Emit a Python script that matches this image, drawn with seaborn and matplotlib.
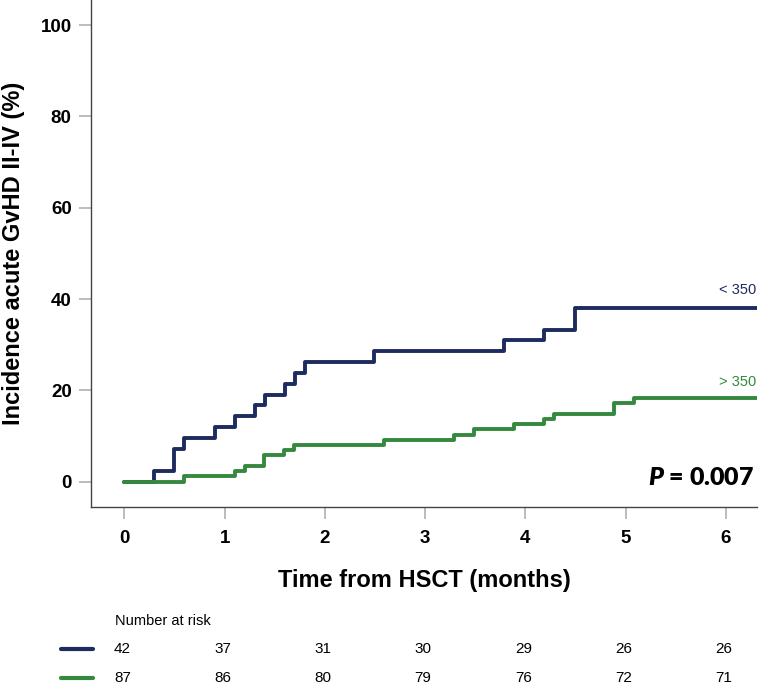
import numpy as np
import pandas as pd
import matplotlib
matplotlib.use("Agg")
import matplotlib.pyplot as plt
import matplotlib.transforms as mtransforms
import seaborn as sns

# cumulative incidence (step after each time)
low_time = [0, 0.29, 0.49, 0.59, 0.90, 1.10, 1.30, 1.40, 1.60, 1.70, 1.80, 2.49, 3.79, 4.19, 4.49, 6.32]
low_inc = [0, 2.4, 7.1, 9.5, 11.9, 14.3, 16.7, 19.0, 21.4, 23.8, 26.2, 28.6, 31.0, 33.3, 38.1, 38.1]

high_time = [0, 0.59, 1.10, 1.20, 1.39, 1.59, 1.69, 2.59, 3.29, 3.49, 3.89, 4.19, 4.29, 4.88, 5.08, 6.32]
high_inc = [0, 1.15, 2.3, 3.45, 5.75, 6.9, 8.05, 9.2, 10.3, 11.5, 12.6, 13.8, 14.9, 17.2, 18.4, 18.4]

groups = ["< 350", "> 350"]
colors = ["#1d2b5f", "#35893f"]

risk_times = [0, 1, 2, 3, 4, 5, 6]
risk_low = [42, 37, 31, 30, 29, 26, 26]
risk_high = [87, 86, 80, 79, 76, 72, 71]

df = pd.concat([
    pd.DataFrame({"time": low_time, "inc": low_inc, "group": groups[0]}),
    pd.DataFrame({"time": high_time, "inc": high_inc, "group": groups[1]}),
])

sns.set_theme(style="white")
plt.rcParams["font.family"] = ["Liberation Sans", "DejaVu Sans"]
plt.rcParams["text.color"] = "black"
plt.rcParams["axes.labelcolor"] = "black"
plt.rcParams["xtick.labelcolor"] = "black"
plt.rcParams["ytick.labelcolor"] = "black"
plt.rcParams["mathtext.fontset"] = "custom"
plt.rcParams["mathtext.it"] = "Lato:italic:heavy"
plt.rcParams["mathtext.rm"] = "Lato:heavy"

fig = plt.figure(figsize=(7.6, 6.84), dpi=100)
ax = fig.add_axes([0.1201, 0.2588, 0.8759, 0.7412])

for g, c in zip(groups, colors):
    sub = df[df["group"] == g]
    sns.lineplot(data=sub, x="time", y="inc", color=c, linewidth=2.8,
                 drawstyle="steps-post", estimator=None, ax=ax)

ax.set_xlim(-0.331, 6.31)
ax.set_ylim(-5.54, 105.5)
ax.set_xticks(risk_times)
ax.set_yticks([0, 20, 40, 60, 80, 100])

for s in ["top", "right"]:
    ax.spines[s].set_visible(False)
for s in ["left", "bottom"]:
    ax.spines[s].set_color("#444444")
    ax.spines[s].set_linewidth(1.0)

ax.tick_params(axis="both", which="major", length=8.6, width=1.2, color="#b0b0b0",
               labelsize=13.5, direction="out", left=True, bottom=True)
ax.tick_params(axis="y", pad=5.5)
ax.tick_params(axis="x", pad=8)
for lab in ax.get_xticklabels() + ax.get_yticklabels():
    lab.set_fontweight("bold")

ax.set_xlabel("Time from HSCT (months)", fontsize=17, fontweight="bold", labelpad=16)
ax.set_ylabel("Incidence acute GvHD II-IV (%)", fontsize=17, fontweight="bold", labelpad=11)

ax.text(6.30, 42.0, groups[0], color=colors[0], fontsize=10.5, ha="right", va="center")
ax.text(6.30, 21.9, groups[1], color=colors[1], fontsize=10.5, ha="right", va="center")

ax.text(6.28, 0.8, r"$\mathit{P}$ = 0.007", fontsize=18, fontweight="heavy",
        family="Lato", ha="right", va="center")

# number at risk table below the axis
trans = mtransforms.blended_transform_factory(ax.transData, fig.transFigure)
fig.text(115 / 760, 1 - 620.7 / 684, "Number at risk", fontsize=10.5, ha="left", va="center")
rows = [(risk_low, 1 - 649 / 684), (risk_high, 1 - 678 / 684)]
for (vals, yy), c in zip(rows, colors):
    for t, v in zip(risk_times, vals):
        ax.text(t - 0.02, yy, str(v), transform=trans, fontsize=11, ha="center", va="center")
    fig.add_artist(plt.Line2D([61 / 760, 93 / 760], [yy, yy], color=c, linewidth=3,
                              transform=fig.transFigure))

fig.savefig("out.png", dpi=100)
